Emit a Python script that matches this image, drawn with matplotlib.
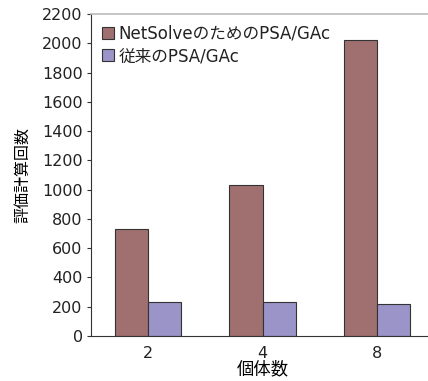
import matplotlib
matplotlib.use('Agg')
import matplotlib.pyplot as plt
import numpy as np

plt.rcParams['font.family'] = ['DejaVu Sans', 'Noto Sans CJK JP']

categories = ['2', '4', '8']
series_names = ['NetSolveのためのPSA/GAc', '従来のPSA/GAc']
netsolve_vals = [729, 1031, 2020]
classic_vals = [232, 232, 220]
yticks = [0, 200, 400, 600, 800, 1000, 1200, 1400, 1600, 1800, 2000, 2200]

fig = plt.figure(figsize=(4.28, 3.81), dpi=100)
ax = fig.add_axes([91 / 428, 45 / 381, 343 / 428, 322 / 381])

x = np.arange(len(categories))
w = 0.29
ax.bar(x - w / 2, netsolve_vals, w, color='#A07070', edgecolor='#333333',
       linewidth=0.8, label=series_names[0])
ax.bar(x + w / 2, classic_vals, w, color='#9A94C8', edgecolor='#333333',
       linewidth=0.8, label=series_names[1])

ax.set_xlim(-0.5, 2.5)
ax.set_ylim(0, 2200)
ax.set_yticks(yticks)
ax.set_xticks(x)
ax.set_xticklabels(categories)
ax.tick_params(axis='y', direction='out', length=3, width=0.8, labelsize=11.5,
               colors='#333333', labelcolor='#222222', pad=3)
ax.tick_params(axis='x', length=0, labelsize=11.5, labelcolor='#222222', pad=7)

ax.spines['right'].set_visible(False)
ax.spines['top'].set_color('#bbbbbb')
ax.spines['top'].set_linewidth(1.2)
ax.spines['left'].set_color('#333333')
ax.spines['bottom'].set_color('#333333')

ax.set_xlabel('個体数', fontsize=12.5, family=['Noto Sans CJK JP'], labelpad=0)
ax.set_ylabel('評価計算回数', fontsize=11.5, family=['Noto Sans CJK JP'], labelpad=8)

leg = ax.legend(loc='upper left', bbox_to_anchor=(0.0, 1.0), frameon=False,
                fontsize=12, handlelength=0.75, handleheight=0.75,
                handletextpad=0.25, labelspacing=0.25, borderaxespad=0.25)
for t in leg.get_texts():
    t.set_color('#222222')

fig.savefig('out.png', dpi=100)
